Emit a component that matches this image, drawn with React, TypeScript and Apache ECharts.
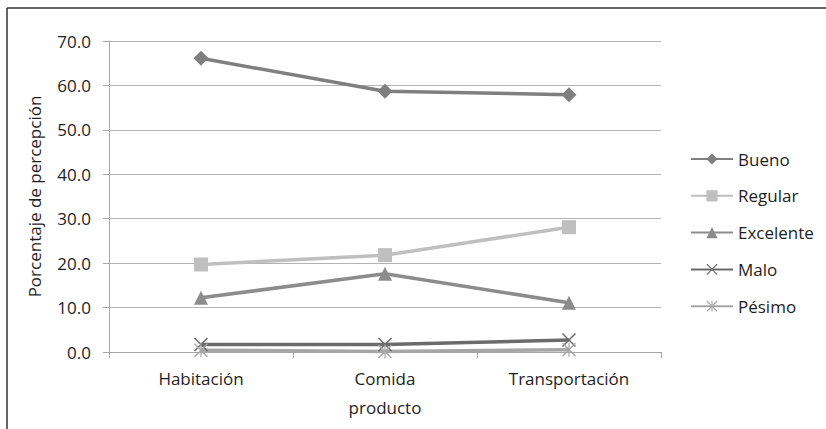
import React, { useEffect, useRef } from "react";
import * as echarts from "echarts";

const categories = ["Habitación", "Comida", "Transportación"];
const seriesNames = ["Bueno", "Regular", "Excelente", "Malo", "Pésimo"];
const bueno = [66.1, 58.7, 57.9];
const regular = [19.7, 21.8, 28.1];
const excelente = [12.2, 17.6, 11.1];
const malo = [1.7, 1.7, 2.7];
const pesimo = [0.4, 0.1, 0.5];
const yTicks = { min: 0, max: 70, interval: 10 };

const FONT = "'Open Sans', sans-serif";
const TEXT = "#1e1e1e";
const crossPath = "path://M0,1 L1,0 L14,13 L13,14 Z M13,0 L14,1 L1,14 L0,13 Z";
const starPath =
  "path://M0,1 L1,0 L14,13 L13,14 Z M13,0 L14,1 L1,14 L0,13 Z M6.4,0 L7.6,0 L7.6,14 L6.4,14 Z";

export default function App() {
  const ref = useRef<HTMLDivElement>(null);

  useEffect(() => {
    if (!ref.current) return;
    const chart = echarts.init(ref.current, undefined, { renderer: "svg" });

    const mk = (
      name: string,
      data: number[],
      color: string,
      symbol: string,
      symbolSize: number,
      width: number
    ) => ({
      name,
      type: "line",
      data,
      symbol,
      symbolSize,
      showAllSymbol: true,
      lineStyle: { color, width },
      itemStyle: { color },
      emphasis: { disabled: true },
    });

    chart.setOption({
      animation: false,
      backgroundColor: "#ffffff",
      textStyle: { fontFamily: FONT },
      grid: { left: 109, right: 165, top: 41, bottom: 77, containLabel: false },
      legend: {
        orient: "vertical",
        left: 685,
        top: 145.5,
        itemWidth: 42,
        itemHeight: 14,
        itemGap: 19.8,
        data: seriesNames,
        textStyle: { fontFamily: FONT, fontSize: 17, color: TEXT },
      },
      xAxis: {
        type: "category",
        data: categories,
        boundaryGap: true,
        name: "producto",
        nameLocation: "middle",
        nameGap: 47,
        nameTextStyle: { fontFamily: FONT, fontSize: 17, color: TEXT },
        axisLine: { lineStyle: { color: "#a6a6a6", width: 1 } },
        axisTick: { show: true, length: 6, lineStyle: { color: "#a6a6a6" } },
        axisLabel: { fontFamily: FONT, fontSize: 17, color: TEXT, margin: 18 },
        splitLine: { show: false },
      },
      yAxis: {
        type: "value",
        min: yTicks.min,
        max: yTicks.max,
        interval: yTicks.interval,
        name: "Porcentaje de percepción",
        nameLocation: "middle",
        nameGap: 66,
        nameTextStyle: { fontFamily: FONT, fontSize: 17, color: TEXT },
        axisLine: { show: true, lineStyle: { color: "#a6a6a6", width: 1 } },
        axisTick: { show: true, length: 6, lineStyle: { color: "#a6a6a6" } },
        axisLabel: {
          fontFamily: FONT,
          fontSize: 17,
          color: TEXT,
          margin: 18,
          formatter: (v: number) => v.toFixed(1),
        },
        splitLine: { show: true, lineStyle: { color: "#b3b3b3", width: 1 } },
      },
      graphic: [
        {
          type: "line",
          shape: { x1: 7, y1: 8, x2: 826, y2: 8 },
          style: { stroke: "#333", lineWidth: 1.5 },
        },
        {
          type: "line",
          shape: { x1: 7, y1: 8, x2: 7, y2: 429 },
          style: { stroke: "#333", lineWidth: 1.5 },
        },
      ],
      series: [
        mk("Bueno", bueno, "#7f7f7f", "diamond", 15, 3.5),
        mk("Regular", regular, "#bfbfbf", "rect", 14, 3.5),
        mk("Excelente", excelente, "#8c8c8c", "triangle", 14, 3.5),
        mk("Malo", malo, "#6b6b6b", crossPath, 14, 3.5),
        mk("Pésimo", pesimo, "#a6a6a6", starPath, 14, 3.5),
      ],
    });

    return () => chart.dispose();
  }, []);

  return (
    <div
      ref={ref}
      style={{ position: "fixed", left: 0, top: 0, width: 826, height: 429 }}
    />
  );
}
